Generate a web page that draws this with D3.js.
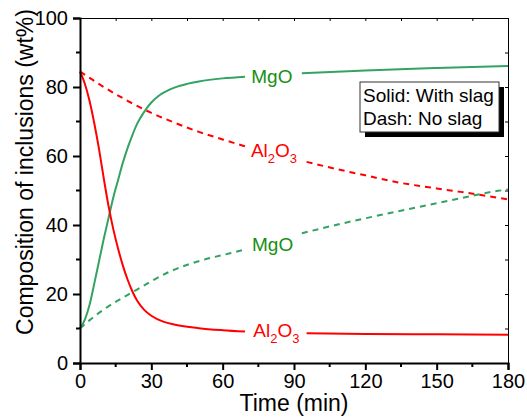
<!DOCTYPE html>
<html>
<head>
<meta charset="utf-8">
<script src="https://cdn.jsdelivr.net/npm/d3@7"></script>
<style>
  body { margin: 0; background: #fff; }
  svg text { font-family: "Liberation Sans", Arial, sans-serif; }
</style>
</head>
<body>
<div id="chart"></div>
<script>
// data: [time (min), wt%]
// each curve is split in two parts, the gap is where its label sits
const alSlagA = [[0,84.5],[2,81],[4,76],[6,69.5],[8,62],[10,53.5],[12,45.5],[14,38.8],[16,33.2],[18,28.3],[20,24.2],[22,20.8],[24,18.1],[27,15.4],[30,13.7],[35,12],[40,11.1],[50,10.1],[60,9.5],[69.4,9.1]];
const alSlagB = [[95.3,8.6],[120,8.4],[150,8.3],[180,8.2]];
const mgSlagA = [[0,10],[2,12.5],[4,16.8],[6,23],[8,29.5],[10,36],[12,42],[14,48],[16,53],[18,58],[20,62.3],[22,66],[24,69.3],[27,72.8],[30,75.5],[33,77.4],[36.4,78.8],[40,79.9],[45,80.9],[50,81.6],[60,82.5],[69.4,83]];
const mgSlagB = [[93.3,84],[120,84.8],[150,85.5],[180,86.1]];
const alNoSlagA = [[0,84.5],[10,80],[20,76],[30,72.5],[40,69.6],[50,67],[60,64.8],[69.4,62.8]];
const alNoSlagB = [[95.3,58.3],[108,56.2],[120,54.4],[133.3,52.4],[150,50.6],[160,49.6],[180,47.4]];
const mgNoSlagA = [[0,10],[4.2,12.5],[9.8,15.4],[23.8,21.2],[37.8,26.5],[51.9,29.9],[63.1,31.8],[69.4,32.9]];
const mgNoSlagB = [[93.3,37.6],[110,40.4],[133.3,43.9],[155,47],[175.8,49.9],[180,50.3]];

const xTicks = [0, 30, 60, 90, 120, 150, 180];
const yTicks = [0, 20, 40, 60, 80, 100];

const red = "#ff0000", green = "#33a362", greenText = "#159015";

const width = 527, height = 417;
const margin = {top: 18, right: 19, bottom: 54, left: 80};

const svg = d3.select("#chart").append("svg")
    .attr("width", width)
    .attr("height", height);

const x = d3.scaleLinear().domain([0, 180]).range([margin.left, width - margin.right]);
const y = d3.scaleLinear().domain([0, 100]).range([height - margin.bottom, margin.top]);

// top and right frame, thin with small inward ticks
svg.append("g")
    .attr("transform", `translate(0,${margin.top})`)
    .call(d3.axisBottom(x).tickValues(d3.range(0, 181, 15)).tickSize(3).tickFormat(""))
    .call(g => g.selectAll("line,path").attr("stroke", "#000").attr("stroke-width", 1));
svg.append("g")
    .attr("transform", `translate(${width - margin.right},0)`)
    .call(d3.axisLeft(y).tickValues(d3.range(0, 101, 10)).tickSize(3).tickFormat(""))
    .call(g => g.selectAll("line,path").attr("stroke", "#000").attr("stroke-width", 1));

// curves
const line = d3.line()
    .x(d => x(d[0]))
    .y(d => y(d[1]))
    .curve(d3.curveMonotoneX);

const curves = [
  {data: alNoSlagA, color: red, dash: "6,5"},
  {data: alNoSlagB, color: red, dash: "6,5"},
  {data: mgNoSlagA, color: green, dash: "6,5"},
  {data: mgNoSlagB, color: green, dash: "6,5"},
  {data: mgSlagA, color: green, dash: null},
  {data: mgSlagB, color: green, dash: null},
  {data: alSlagA, color: red, dash: null},
  {data: alSlagB, color: red, dash: null}
];

svg.append("g").selectAll("path")
    .data(curves)
    .enter().append("path")
    .attr("fill", "none")
    .attr("stroke", d => d.color)
    .attr("stroke-width", 2)
    .attr("stroke-dasharray", d => d.dash)
    .attr("d", d => line(d.data));

// curve labels
const labels = [
  {t: 80.7, v: 81.2, name: "MgO", color: greenText},
  {t: 81.6, v: 59.8, name: "Al2O3", color: red},
  {t: 81, v: 32.5, name: "MgO", color: greenText},
  {t: 82.6, v: 7.6, name: "Al2O3", color: red}
];
labels.forEach(l => {
  const t = svg.append("text")
      .attr("x", x(l.t))
      .attr("y", y(l.v))
      .attr("text-anchor", "middle")
      .attr("fill", l.color)
      .style("font-size", "19px");
  if (l.name === "MgO") {
    t.text("MgO");
  } else {
    t.append("tspan").text("Al");
    t.append("tspan").attr("dy", 6).style("font-size", "13px").text("2");
    t.append("tspan").attr("dy", -6).text("O");
    t.append("tspan").attr("dy", 6).style("font-size", "13px").text("3");
  }
});

// left and bottom axes
const xAxis = svg.append("g")
    .attr("transform", `translate(0,${height - margin.bottom})`)
    .call(d3.axisBottom(x).tickValues(xTicks).tickSize(7).tickPadding(4));
xAxis.selectAll(".minor")
    .data(d3.range(15, 180, 30))
    .enter().append("line")
    .attr("x1", d => x(d)).attr("x2", d => x(d))
    .attr("y1", 0).attr("y2", 4)
    .attr("stroke", "#000").attr("stroke-width", 2);

const yAxis = svg.append("g")
    .attr("transform", `translate(${margin.left},0)`)
    .call(d3.axisLeft(y).tickValues(yTicks).tickSize(7).tickPadding(5));
yAxis.selectAll(".minor")
    .data(d3.range(10, 100, 20))
    .enter().append("line")
    .attr("x1", 0).attr("x2", -4)
    .attr("y1", d => y(d)).attr("y2", d => y(d))
    .attr("stroke", "#000").attr("stroke-width", 2);

[xAxis, yAxis].forEach(g => {
  g.select(".domain").attr("stroke-width", 2).attr("stroke", "#000");
  g.selectAll(".tick line").attr("stroke-width", 2).attr("stroke", "#000");
  g.selectAll(".tick text")
      .attr("fill", "#000")
      .style("font-family", '"Liberation Sans", Arial, sans-serif')
      .style("font-size", "20px");
});

// axis titles
svg.append("text")
    .attr("x", (x.range()[0] + x.range()[1]) / 2)
    .attr("y", 411)
    .attr("text-anchor", "middle")
    .style("font-size", "23px")
    .text("Time (min)");

svg.append("text")
    .attr("transform", "translate(33,172) rotate(-90)")
    .attr("text-anchor", "middle")
    .style("font-size", "23px")
    .text("Composition of inclusions (wt%)");

// legend note with shadow
const note = svg.append("g").attr("transform", "translate(360,82)");
note.append("rect")
    .attr("x", 5).attr("y", 5).attr("width", 139).attr("height", 50)
    .attr("fill", "#000");
note.append("rect")
    .attr("width", 139).attr("height", 50)
    .attr("fill", "#fff").attr("stroke", "#333").attr("stroke-width", 1);
note.append("text").attr("x", 3).attr("y", 20).style("font-size", "19px").text("Solid: With slag");
note.append("text").attr("x", 3).attr("y", 43).style("font-size", "19px").text("Dash: No slag");
</script>
</body>
</html>
